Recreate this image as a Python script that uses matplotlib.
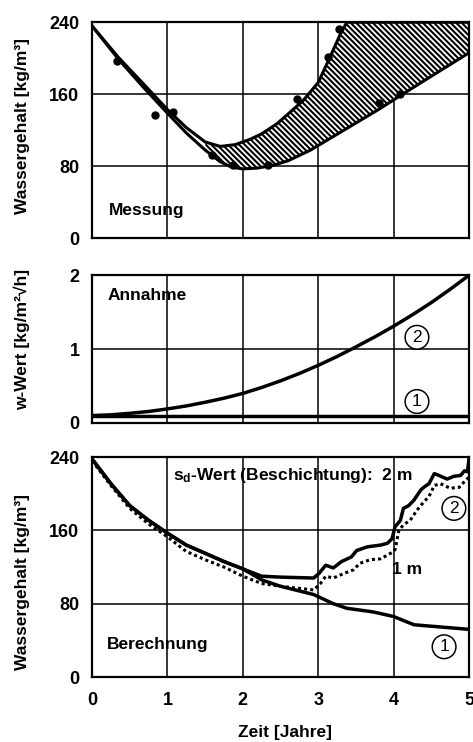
import numpy as np
import matplotlib.pyplot as plt

plt.rcParams['font.family'] = ['Liberation Sans', 'DejaVu Sans']
plt.rcParams['font.weight'] = 'bold'
plt.rcParams['hatch.linewidth'] = 1.5
plt.rcParams['mathtext.fontset'] = 'custom'
plt.rcParams['mathtext.bf'] = 'Liberation Sans:bold'
plt.rcParams['mathtext.rm'] = 'Liberation Sans:bold'

# --- Messung (measured) ---
meas_x = [0.33, 0.84, 1.08, 1.59, 1.87, 2.33, 2.72, 3.13, 3.27, 3.8, 4.09]
meas_y = [197, 137, 140, 93, 81, 81, 155, 201, 232, 150, 160]

upper_x = [0, 0.35, 0.7, 1.0, 1.25, 1.5, 1.7, 1.9, 2.1, 2.25, 2.45, 2.6, 2.8, 3.0, 3.15, 3.3, 3.38, 5.0]
upper_y = [236, 201, 170, 143, 123, 107, 102, 104, 110, 116, 127, 138, 153, 173, 200, 228, 240, 240]
lower_x = [0, 0.35, 0.7, 1.0, 1.25, 1.5, 1.7, 1.85, 2.0, 2.2, 2.4, 2.6, 2.9, 3.2, 3.5, 3.8, 4.1, 4.5, 5.0]
lower_y = [236, 199, 166, 139, 117, 98, 85, 79, 77, 78, 81, 86, 98, 113, 128, 143, 159, 180, 206]

# --- Annahme (w-Wert) ---
w_x = [0, 0.25, 0.5, 0.75, 1.0, 1.25, 1.5, 1.75, 2.0, 2.25, 2.5, 2.75, 3.0,
       3.25, 3.5, 3.75, 4.0, 4.25, 4.5, 4.75, 5.0]
w2_y = [0.10, 0.11, 0.13, 0.155, 0.19, 0.23, 0.28, 0.335, 0.40, 0.48, 0.57, 0.67, 0.78,
        0.90, 1.03, 1.165, 1.31, 1.465, 1.63, 1.81, 2.0]
w1_y = [0.1] * len(w_x)

# --- Berechnung ---
c1_x = [0, 0.25, 0.5, 0.75, 1.0, 1.25, 1.5, 1.75, 2.0, 2.25, 2.5, 2.94, 3.2, 3.38, 3.73, 4.0, 4.27, 5.0]
c1_y = [238, 211, 187, 171, 157, 144, 135, 126, 118, 106, 99, 90, 80, 75, 71, 66, 57, 52]

sd2_x = [0, 0.25, 0.5, 0.75, 1.0, 1.25, 1.5, 1.75, 2.0, 2.25, 2.5, 2.94, 3.01, 3.1, 3.2,
         3.31, 3.44, 3.51, 3.65, 3.83, 3.92, 3.98, 4.02, 4.09, 4.13, 4.2, 4.27, 4.36,
         4.4, 4.47, 4.54, 4.6, 4.71, 4.8, 4.89, 4.94, 4.98, 5.0]
sd2_y = [238, 211, 187, 171, 157, 144, 135, 126, 118, 110, 109, 108, 113, 122, 119,
         126, 131, 138, 142, 144, 146, 151, 164, 171, 184, 187, 193, 204,
         207, 211, 222, 220, 216, 219, 220, 225, 224, 238]

sd1_x = [0, 0.25, 0.5, 0.75, 1.0, 1.25, 1.5, 1.75, 2.0, 2.25, 2.5, 2.94, 3.03, 3.1, 3.2,
         3.34, 3.47, 3.55, 3.69, 3.83, 3.96, 4.02, 4.07, 4.13, 4.22, 4.31, 4.4, 4.47,
         4.54, 4.62, 4.75, 4.87, 4.96, 5.0]
sd1_y = [236, 209, 184, 167, 153, 137, 128, 120, 110, 102, 99, 95, 102, 110, 108,
         113, 117, 124, 128, 129, 135, 139, 160, 166, 171, 182, 191, 197,
         209, 211, 206, 207, 215, 218]

xticks = [0, 1, 2, 3, 4, 5]

W, H = 473, 742
fig = plt.figure(figsize=(W / 100, H / 100), dpi=100)
ax1 = fig.add_axes([0.1945, 0.679, 0.797, 0.291])
ax2 = fig.add_axes([0.1945, 0.430, 0.797, 0.199])
ax3 = fig.add_axes([0.1945, 0.0876, 0.797, 0.2964])

fs = 12.5
tfs = 13
for ax in (ax1, ax2, ax3):
    ax.set_xlim(0, 5)
    ax.set_xticks(xticks)
    ax.grid(True, color='black', lw=1.1)
    ax.set_axisbelow(True)
    ax.tick_params(length=0, labelsize=tfs)
    ax.tick_params(axis='y', pad=9)
    ax.tick_params(axis='x', pad=11)
    for s in ax.spines.values():
        s.set_linewidth(1.6)

# panel 1
ax1.set_ylim(0, 240)
ax1.set_yticks([0, 80, 160, 240])
ax1.set_xticklabels([])
ux = np.linspace(0, 5, 600)
up = np.interp(ux, upper_x, upper_y)
lo = np.interp(ux, lower_x, lower_y)
ax1.fill_between(ux, lo, up, where=ux >= 1.5, facecolor='white', edgecolor='black',
                 hatch='\\' * 6, lw=0)
ax1.plot(upper_x, upper_y, color='black', lw=2.2)
ax1.plot(lower_x, lower_y, color='black', lw=2.2)
ax1.plot(meas_x, meas_y, 'o', color='black', ms=5)
ax1.text(0.22, 31, 'Messung', fontsize=fs, fontweight='bold', va='center')

# panel 2
ax2.set_ylim(0, 2)
ax2.set_yticks([0, 1, 2])
ax2.set_xticklabels([])
ax2.plot(w_x, w2_y, color='black', lw=2.5)
ax2.plot(w_x, w1_y, color='black', lw=2.5)
ax2.text(0.2, 1.73, 'Annahme', fontsize=fs, fontweight='bold', va='center')
circ = dict(boxstyle='circle,pad=0.25', fc='white', ec='black', lw=1.1)
ax2.text(4.31, 1.16, '2', fontsize=12.5, fontweight='normal', ha='center', va='center', bbox=circ)
ax2.text(4.31, 0.29, '1', fontsize=12.5, fontweight='normal', ha='center', va='center', bbox=circ)

# panel 3
ax3.set_ylim(0, 240)
ax3.set_yticks([0, 80, 160, 240])
ax3.plot(c1_x, c1_y, color='black', lw=2.5)
ax3.plot(sd2_x, sd2_y, color='black', lw=2.5)
ax3.plot(sd1_x, sd1_y, color='black', lw=2.2, ls=(0, (1, 1)))
ax3.text(1.08, 220, '$\\mathbf{s_d}$-Wert (Beschichtung):  2 m', fontsize=fs, fontweight='bold', va='center')
ax3.text(3.98, 117, '1 m', fontsize=fs, fontweight='bold', va='center')
ax3.text(0.2, 35, 'Berechnung', fontsize=fs, fontweight='bold', va='center')
ax3.text(4.8, 184, '2', fontsize=12.5, fontweight='normal', ha='center', va='center', bbox=circ)
ax3.text(4.67, 33, '1', fontsize=12.5, fontweight='normal', ha='center', va='center', bbox=circ)

# axis titles
fig.text(22 / W, 1 - 126 / H, 'Wassergehalt [kg/m³]', rotation=90, ha='center', va='center',
         fontsize=fs, fontweight='bold')
fig.text(22 / W, 1 - 339 / H, 'w-Wert [kg/m²√h]', rotation=90, ha='center', va='center',
         fontsize=fs, fontweight='bold')
fig.text(22 / W, 1 - 582 / H, 'Wassergehalt [kg/m³]', rotation=90, ha='center', va='center',
         fontsize=fs, fontweight='bold')
fig.text(285 / W, 1 - 733 / H, 'Zeit [Jahre]', ha='center', va='center',
         fontsize=fs, fontweight='bold')

fig.savefig('out.png', dpi=100)
